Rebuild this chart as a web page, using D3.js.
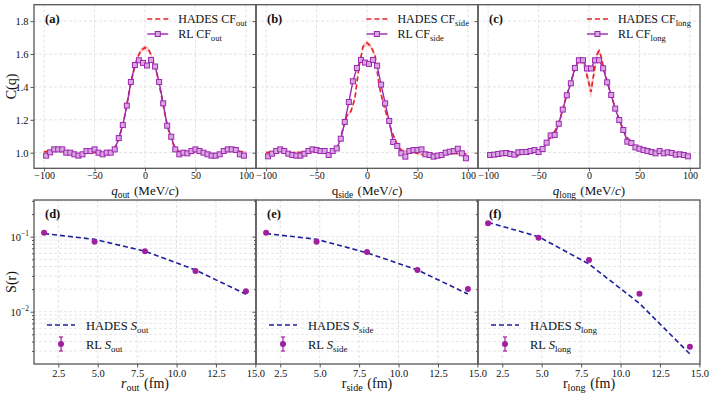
<!DOCTYPE html>
<html>
<head>
<meta charset="utf-8">
<script src="https://cdn.jsdelivr.net/npm/d3@7"></script>
<style>
  body { margin: 0; background: #fff; }
  svg text { font-family: "Liberation Serif", "Times New Roman", serif; fill: #111; }
</style>
</head>
<body>
<svg id="chart" width="713" height="395"></svg>
<script>
/* ---------- data : correlation functions (top row) ---------- */
const qRL = [-98,-94,-90,-86,-82,-78,-74,-70,-66,-62,-58,-54,-50,-46,-42,-38,-34,-30,-26,-22,-18,-14,-10,-6,-2,
             2,6,10,14,18,22,26,30,34,38,42,46,50,54,58,62,66,70,74,78,82,86,90,94,98];
const rlOut  = [0.982,1.002,1.020,1.020,1.020,1.000,1.000,0.990,0.982,0.990,1.010,1.010,1.020,1.000,0.990,1.000,1.000,1.020,1.089,1.168,1.286,1.430,1.533,1.562,1.546,
                1.530,1.564,1.524,1.430,1.300,1.164,1.097,1.020,0.990,1.000,0.996,1.010,1.020,1.010,1.000,0.990,0.982,0.982,0.990,1.010,1.020,1.020,1.016,0.990,0.982];
const rlSide = [0.978,0.994,1.010,1.020,1.010,0.994,0.986,0.982,0.982,0.994,1.010,1.020,1.016,1.010,1.010,0.986,1.010,1.026,1.085,1.187,1.308,1.434,1.515,1.564,1.548,
                1.540,1.564,1.529,1.414,1.300,1.193,1.065,1.041,0.996,0.976,1.010,1.016,1.016,1.020,0.990,0.986,0.976,0.982,0.986,1.000,1.006,1.010,1.024,0.996,0.966];
const rlLong = [0.986,0.988,0.992,0.996,0.998,0.992,0.988,1.002,1.004,1.004,1.010,1.016,1.004,1.022,1.061,1.105,1.108,1.176,1.262,1.349,1.422,1.515,1.562,1.562,1.512,
                1.512,1.562,1.562,1.513,1.428,1.351,1.268,1.199,1.138,1.067,1.059,1.032,1.024,1.016,1.010,1.004,0.996,1.010,0.996,1.002,0.998,0.988,0.990,0.986,0.978];

const qHades = [-100,-96,-92,-88,-84,-80,-76,-72,-68,-64,-60,-56,-52,-48,-44,-40,-36,-32,-28,-24,-20,-16,-12,-8,-4,0,
                4,8,12,16,20,24,28,32,36,40,44,48,52,56,60,64,68,72,76,80,84,88,92,96,100];
const hadesOut  = [1.005,1.008,1.010,1.012,1.012,1.005,1.000,0.995,0.990,0.990,0.995,1.000,1.005,1.000,0.995,0.995,1.000,1.015,1.050,1.125,1.225,1.360,1.480,1.570,1.622,1.640,
                   1.622,1.565,1.475,1.355,1.225,1.120,1.050,1.015,1.000,0.995,1.000,1.005,1.010,1.005,1.000,0.995,0.990,0.990,0.995,1.005,1.010,1.012,1.010,1.005,1.000];
const hadesOutErr = [0.008,0.008,0.008,0.008,0.008,0.008,0.008,0.008,0.008,0.008,0.008,0.008,0.008,0.008,0.008,0.008,0.008,0.008,0.009,0.010,0.010,0.011,0.012,0.013,0.014,0.015,
                     0.014,0.013,0.012,0.011,0.010,0.010,0.009,0.008,0.008,0.008,0.008,0.008,0.008,0.008,0.008,0.008,0.008,0.008,0.008,0.008,0.008,0.008,0.008,0.008,0.008];
const hadesSide = [1.000,1.002,1.004,1.006,1.006,1.000,0.998,1.000,1.002,1.000,1.002,1.004,1.004,1.002,1.000,0.998,0.994,1.010,1.050,1.140,1.225,1.250,1.330,1.520,1.645,1.668,
                   1.645,1.590,1.410,1.300,1.220,1.140,1.075,1.026,1.008,1.006,1.006,1.000,0.992,0.988,0.986,0.988,0.990,0.990,0.992,0.994,0.996,0.996,0.994,0.994,0.990];
const hadesSideErr = [0.008,0.008,0.008,0.008,0.008,0.008,0.008,0.008,0.008,0.008,0.008,0.008,0.008,0.008,0.008,0.008,0.008,0.008,0.009,0.010,0.010,0.011,0.012,0.013,0.014,0.015,
                      0.014,0.013,0.012,0.011,0.010,0.010,0.009,0.008,0.008,0.008,0.008,0.008,0.008,0.008,0.008,0.008,0.008,0.008,0.008,0.008,0.008,0.008,0.008,0.008,0.008];

const qHadesLong = [-72,-68,-64,-60,-56,-52,-48,-44,-40,-36,-32,-28,-24,-20,-16,-12,-8,-4,0,2,4,8,10,12,16,20,24,28,32,36,40,44,48,52,56,60,64,68,72,76,80,84,88,92,96,100];
const hadesLong    = [0.975,0.998,1.004,1.008,1.012,1.012,1.020,1.040,1.075,1.110,1.150,1.220,1.310,1.390,1.470,1.540,1.575,1.520,1.420,1.370,1.450,1.600,1.620,1.585,1.480,1.390,1.310,1.235,1.170,1.110,1.070,1.048,1.030,1.020,1.012,1.008,1.004,1.000,1.000,1.002,0.998,0.995,0.990,0.990,0.985,0.980];
const hadesLongErr = [0.008,0.008,0.008,0.008,0.008,0.008,0.008,0.008,0.008,0.008,0.009,0.010,0.010,0.011,0.012,0.013,0.015,0.020,0.035,0.045,0.035,0.018,0.015,0.013,0.012,0.011,0.010,0.010,0.009,0.008,0.008,0.008,0.008,0.008,0.008,0.008,0.008,0.008,0.008,0.008,0.008,0.008,0.008,0.008,0.008,0.008];

const qTicks = [-100, -50, 0, 50, 100];
const cTicks = [1.0, 1.2, 1.4, 1.6, 1.8];

/* ---------- data : source functions (bottom row) ---------- */
const rPts = [1.6, 4.8, 8.0, 11.2, 14.4];
const hadesSOut  = [0.110, 0.092, 0.064, 0.036, 0.0171];
const rlSOut     = [0.113, 0.0858, 0.0638, 0.0349, 0.0187];
const hadesSSide = [0.110, 0.0923, 0.061, 0.036, 0.0172];
const rlSSide    = [0.113, 0.0858, 0.0625, 0.0360, 0.0201];
const hadesSLong = [0.155, 0.100, 0.0432, 0.0129, 0.00273];
const rlSLong    = [0.151, 0.097, 0.0489, 0.0174, 0.00341];
const rlSErr     = [0.002, 0.002, 0.0015, 0.0008, 0.0002];
const rTicks = [2.5, 5.0, 7.5, 10.0, 12.5, 15.0];

/* ---------- layout ---------- */
const svg = d3.select("#chart");
const lefts = [34, 256, 478], pw = 222;
const topT = 4.7, topB = 168.3, botT = 200, botB = 364;
const RED = "#e8232a", PURPLE = "#9c27b0", BLUE = "#1f1f9e", GRID = "#dcdcdc", FRAME = "#555";

function sub(sel, main, s, italic, size) {
  sel.append("tspan").attr("font-style", italic ? "italic" : "normal").text(main);
  sel.append("tspan").attr("font-size", size * 0.72).attr("dy", size * 0.22).text(s);
  sel.append("tspan").attr("dy", -size * 0.22).text("\u200a");
}

function frame(g, L, T, B) {
  g.append("rect").attr("x", L).attr("y", T).attr("width", pw).attr("height", B - T)
    .attr("fill", "none").attr("stroke", FRAME).attr("stroke-width", 1.3);
}

/* ---------- top row ---------- */
const topPanels = [
  { key: "out",  rl: rlOut,  qh: qHades,     hd: hadesOut,  he: hadesOutErr,  lab: "(a)", it: true },
  { key: "side", rl: rlSide, qh: qHades,     hd: hadesSide, he: hadesSideErr, lab: "(b)", it: false },
  { key: "long", rl: rlLong, qh: qHadesLong, hd: hadesLong, he: hadesLongErr, lab: "(c)", it: true }
];

topPanels.forEach((p, i) => {
  const L = lefts[i];
  const x = d3.scaleLinear().domain([-110, 110]).range([L, L + pw]);
  const y = d3.scaleLinear().domain([0.905, 1.9]).range([topB, topT]);
  const g = svg.append("g");
  const cid = "clipT" + i;
  svg.append("clipPath").attr("id", cid).append("rect")
    .attr("x", L).attr("y", topT).attr("width", pw).attr("height", topB - topT);

  // grid
  g.selectAll(".gx").data(qTicks).enter().append("line")
    .attr("x1", d => x(d)).attr("x2", d => x(d)).attr("y1", topT).attr("y2", topB)
    .attr("stroke", GRID).attr("stroke-dasharray", "3,2").attr("stroke-width", 0.8);
  g.selectAll(".gy").data(cTicks).enter().append("line")
    .attr("x1", L).attr("x2", L + pw).attr("y1", d => y(d)).attr("y2", d => y(d))
    .attr("stroke", GRID).attr("stroke-dasharray", "3,2").attr("stroke-width", 0.8);

  const pg = g.append("g").attr("clip-path", `url(#${cid})`);
  const hIdx = d3.range(p.qh.length);
  pg.append("path")
    .attr("d", d3.area().x(j => x(p.qh[j])).y0(j => y(p.hd[j] - p.he[j])).y1(j => y(p.hd[j] + p.he[j]))(hIdx))
    .attr("fill", "#f5a3a3").attr("opacity", 0.55);
  pg.append("path")
    .attr("d", d3.line().x(j => x(p.qh[j])).y(j => y(p.hd[j]))(hIdx))
    .attr("fill", "none").attr("stroke", RED).attr("stroke-width", 1.7).attr("stroke-dasharray", "5,3");

  const rIdx = d3.range(qRL.length);
  pg.append("path")
    .attr("d", d3.line().x(j => x(qRL[j])).y(j => y(p.rl[j]))(rIdx))
    .attr("fill", "none").attr("stroke", PURPLE).attr("stroke-width", 1.4);
  pg.selectAll(".m").data(rIdx).enter().append("rect")
    .attr("x", j => x(qRL[j]) - 2.5).attr("y", j => y(p.rl[j]) - 2.5)
    .attr("width", 5).attr("height", 5)
    .attr("fill", "#d9a6e2").attr("stroke", PURPLE).attr("stroke-width", 1);

  frame(g, L, topT, topB);

  // axes
  const ax = g.append("g").attr("transform", `translate(0,${topB})`)
    .call(d3.axisBottom(x).tickValues(qTicks).tickSize(3).tickPadding(1)
      .tickFormat(d => d < 0 ? "\u2212" + Math.abs(d) : d));
  ax.select(".domain").remove();
  ax.selectAll("text").attr("font-size", 10).attr("fill", "#111");
  const ay = g.append("g").attr("transform", `translate(${L},0)`)
    .call(d3.axisLeft(y).tickValues(cTicks).tickSize(3.5).tickPadding(2)
      .tickFormat(i === 0 ? d3.format(".1f") : () => ""));
  ay.select(".domain").remove();
  ay.selectAll("text").attr("font-size", 10.5).attr("fill", "#111");
  g.selectAll(".tick line").attr("stroke", FRAME);

  // titles
  const t = g.append("text").attr("x", L + 111).attr("y", 195).attr("text-anchor", "middle").attr("font-size", 13);
  sub(t, "q", p.key, p.it, 13);
  t.append("tspan").text(" (MeV/");
  t.append("tspan").attr("font-style", "italic").text("c");
  t.append("tspan").text(")");

  g.append("text").attr("x", L + 11).attr("y", 23).attr("font-size", 12.5).attr("font-weight", "bold").text(p.lab);

  // legend
  const lg = g.append("g");
  lg.append("line").attr("x1", 0).attr("x2", 21).attr("y1", 19).attr("y2", 19)
    .attr("stroke", RED).attr("stroke-width", 1.7).attr("stroke-dasharray", "5,3");
  const l1 = lg.append("text").attr("x", 31).attr("y", 23).attr("font-size", 12);
  sub(l1, "HADES CF", p.key, false, 12);
  lg.append("line").attr("x1", 0).attr("x2", 21).attr("y1", 34).attr("y2", 34)
    .attr("stroke", PURPLE).attr("stroke-width", 1.4);
  lg.append("rect").attr("x", 8).attr("y", 31.5).attr("width", 5).attr("height", 5)
    .attr("fill", "#d9a6e2").attr("stroke", PURPLE);
  const l2 = lg.append("text").attr("x", 31).attr("y", 38).attr("font-size", 12);
  sub(l2, "RL CF", p.key, false, 12);
  const bw = lg.node().getBBox().width;
  lg.attr("transform", `translate(${L + pw - 8 - bw},0)`);
});

svg.append("text").attr("transform", `translate(16,${(topT + topB) / 2}) rotate(-90)`)
  .attr("text-anchor", "middle").attr("font-size", 14).text("C(q)");

/* ---------- bottom row ---------- */
const botPanels = [
  { key: "out",  hd: hadesSOut,  rl: rlSOut,  lab: "(d)", it: true },
  { key: "side", hd: hadesSSide, rl: rlSSide, lab: "(e)", it: false },
  { key: "long", hd: hadesSLong, rl: rlSLong, lab: "(f)", it: false }
];
const majorY = [1e-2, 1e-1];
const minorY = [3e-3,4e-3,5e-3,6e-3,7e-3,8e-3,9e-3,2e-2,3e-2,4e-2,5e-2,6e-2,7e-2,8e-2,9e-2,2e-1,3e-1];

botPanels.forEach((p, i) => {
  const L = lefts[i];
  const x = d3.scaleLinear().domain([0.96, 15.04]).range([L, L + pw]);
  const y = d3.scaleLog().domain([0.00201, 0.308]).range([botB, botT]);
  const g = svg.append("g");

  g.selectAll(".gx").data(rTicks).enter().append("line")
    .attr("x1", d => x(d)).attr("x2", d => x(d)).attr("y1", botT).attr("y2", botB)
    .attr("stroke", GRID).attr("stroke-dasharray", "3,2").attr("stroke-width", 0.8);
  g.selectAll(".gy").data(majorY.concat(minorY)).enter().append("line")
    .attr("x1", L).attr("x2", L + pw).attr("y1", d => y(d)).attr("y2", d => y(d))
    .attr("stroke", GRID).attr("stroke-dasharray", "3,2").attr("stroke-width", 0.7);

  const idx = d3.range(rPts.length);
  g.append("path")
    .attr("d", d3.line().x(j => x(rPts[j])).y(j => y(p.hd[j]))(idx))
    .attr("fill", "none").attr("stroke", BLUE).attr("stroke-width", 1.6).attr("stroke-dasharray", "5,3");
  g.selectAll(".eb").data(idx).enter().append("line")
    .attr("x1", j => x(rPts[j])).attr("x2", j => x(rPts[j]))
    .attr("y1", j => y(p.rl[j] - rlSErr[j] * (i === 2 ? 1 : 0.5))).attr("y2", j => y(p.rl[j] + rlSErr[j] * (i === 2 ? 1 : 0.5)))
    .attr("stroke", "#a0209f").attr("stroke-width", 1.2);
  g.selectAll(".pt").data(idx).enter().append("circle")
    .attr("cx", j => x(rPts[j])).attr("cy", j => y(p.rl[j])).attr("r", 3)
    .attr("fill", "#a0209f");

  frame(g, L, botT, botB);

  const ax = g.append("g").attr("transform", `translate(0,${botB})`)
    .call(d3.axisBottom(x).tickValues(rTicks).tickSize(3.5).tickPadding(2).tickFormat(d3.format(".1f")));
  ax.select(".domain").remove();
  ax.selectAll("text").attr("font-size", 10.5).attr("fill", "#111");
  const ay = g.append("g").attr("transform", `translate(${L},0)`)
    .call(d3.axisLeft(y).tickValues(majorY).tickSize(3.5).tickPadding(2).tickFormat(() => ""));
  ay.select(".domain").remove();
  g.append("g").attr("transform", `translate(${L},0)`)
    .call(d3.axisLeft(y).tickValues(minorY).tickSize(2).tickFormat(() => ""))
    .select(".domain").remove();
  g.selectAll(".tick line").attr("stroke", FRAME);
  if (i === 0) {
    majorY.forEach((v, k) => {
      const tx = g.append("text").attr("x", L - 5).attr("y", y(v) + 4).attr("text-anchor", "end").attr("font-size", 10.5);
      tx.append("tspan").text("10");
      tx.append("tspan").attr("font-size", 7.5).attr("dy", -5).text(k === 0 ? "\u22122" : "\u22121");
    });
  }

  const t = g.append("text").attr("x", L + 111).attr("y", 388).attr("text-anchor", "middle").attr("font-size", 14);
  sub(t, "r", p.key, p.it, 14);
  t.append("tspan").text(" (fm)");

  g.append("text").attr("x", L + 11).attr("y", 218).attr("font-size", 12.5).attr("font-weight", "bold").text(p.lab);

  // legend
  g.append("line").attr("x1", L + 13).attr("x2", L + 41).attr("y1", 325).attr("y2", 325)
    .attr("stroke", BLUE).attr("stroke-width", 1.6).attr("stroke-dasharray", "5,3");
  const l1 = g.append("text").attr("x", L + 52).attr("y", 330).attr("font-size", 12.5);
  l1.append("tspan").text("HADES ");
  sub(l1, "S", p.key, true, 12.5);
  g.append("line").attr("x1", L + 27).attr("x2", L + 27).attr("y1", 337).attr("y2", 351)
    .attr("stroke", "#a0209f").attr("stroke-width", 1.2);
  [337, 351].forEach(yy => g.append("line").attr("x1", L + 25).attr("x2", L + 29).attr("y1", yy).attr("y2", yy)
    .attr("stroke", "#a0209f").attr("stroke-width", 1.2));
  g.append("circle").attr("cx", L + 27).attr("cy", 344).attr("r", 3).attr("fill", "#a0209f");
  const l2 = g.append("text").attr("x", L + 52).attr("y", 349).attr("font-size", 12.5);
  l2.append("tspan").text("RL ");
  sub(l2, "S", p.key, true, 12.5);
});

svg.append("text").attr("transform", `translate(16,${(botT + botB) / 2}) rotate(-90)`)
  .attr("text-anchor", "middle").attr("font-size", 14).text("S(r)");
</script>
</body>
</html>
